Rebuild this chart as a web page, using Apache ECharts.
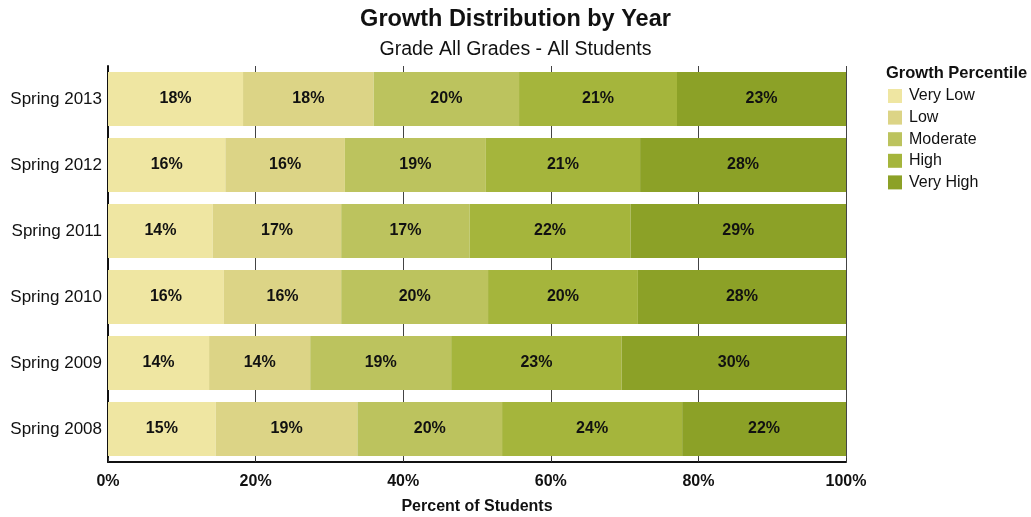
<!DOCTYPE html>
<html>
<head>
<meta charset="utf-8">
<script src="https://cdn.jsdelivr.net/npm/echarts@6/dist/echarts.min.js"></script>
<style>
html,body{margin:0;padding:0;background:#fff;}
#chart{width:1031px;height:517px;}
</style>
</head>
<body>
<div id="chart"></div>
<script>
const categories = ['Spring 2008','Spring 2009','Spring 2010','Spring 2011','Spring 2012','Spring 2013'];
const seriesNames = ['Very Low','Low','Moderate','High','Very High'];
const veryLow  = [14.6, 13.7, 15.7, 14.2, 15.9, 18.3];
const low      = [19.2, 13.7, 15.9, 17.4, 16.2, 17.7];
const moderate = [19.6, 19.1, 19.9, 17.4, 19.1, 19.7];
const high     = [24.4, 23.1, 20.3, 21.8, 20.9, 21.4];
const veryHigh = [22.2, 30.4, 28.2, 29.2, 27.9, 22.9];
const xTicks = [0, 20, 40, 60, 80, 100];

const colors = ['#efe6a2', '#dcd486', '#bcc35e', '#a5b53c', '#8ca127'];
const values = [veryLow, low, moderate, high, veryHigh];
const font = 'Liberation Sans, Arial, sans-serif';

const chart = echarts.init(document.getElementById('chart'), null, {renderer: 'canvas'});
chart.setOption({
  animation: false,
  textStyle: {fontFamily: font},
  title: [
    {text: 'Growth Distribution by Year', left: 'center', top: 8, padding: 0,
     textStyle: {fontSize: 23.5, fontWeight: 'bold', color: '#111', fontFamily: font}},
    {text: 'Grade All Grades - All Students', left: 'center', top: 40, padding: 0,
     textStyle: {fontSize: 19.5, fontWeight: 'normal', color: '#111', fontFamily: font}},
    {text: 'Growth Percentile', left: 886, top: 65, padding: 0,
     textStyle: {fontSize: 16.5, fontWeight: 'bold', color: '#111', fontFamily: font}}
  ],
  legend: {
    orient: 'vertical', left: 888, top: 88, padding: 0,
    itemWidth: 14, itemHeight: 14, itemGap: 5.6,
    icon: 'rect',
    data: seriesNames,
    textStyle: {fontSize: 16, lineHeight: 14, color: '#111', fontFamily: font, padding: [0,0,0,2]}
  },
  grid: {left: 108, right: 185, top: 66, bottom: 55, containLabel: false, outerBoundsMode: 'none'},
  xAxis: {
    type: 'value', min: 0, max: 100, interval: 20,
    name: 'Percent of Students', nameLocation: 'middle', nameGap: 37,
    nameTextStyle: {fontSize: 16, fontWeight: 'bold', color: '#111', fontFamily: font},
    axisLine: {show: true, lineStyle: {color: '#111', width: 2}},
    axisTick: {show: true, inside: true, length: 4, lineStyle: {color: '#333'}},
    axisLabel: {fontSize: 16, fontWeight: 'bold', color: '#111', margin: 12,
      formatter: v => xTicks.includes(v) ? v + '%' : ''},
    splitLine: {show: true, lineStyle: {color: '#444', width: 1}}
  },
  yAxis: {
    type: 'category', data: categories,
    axisLine: {show: true, lineStyle: {color: '#111', width: 2}},
    axisTick: {show: false},
    axisLabel: {fontSize: 17, color: '#111', margin: 6, fontFamily: font}
  },
  series: values.map((arr, i) => ({
    name: seriesNames[i], type: 'bar', stack: 'total',
    data: arr, barCategoryGap: '18%',
    itemStyle: {color: colors[i]},
    label: {show: true, position: 'inside', fontSize: 16, fontWeight: 'bold', color: '#111',
      fontFamily: font, formatter: p => Math.round(p.value) + '%'}
  }))
});
</script>
</body>
</html>
